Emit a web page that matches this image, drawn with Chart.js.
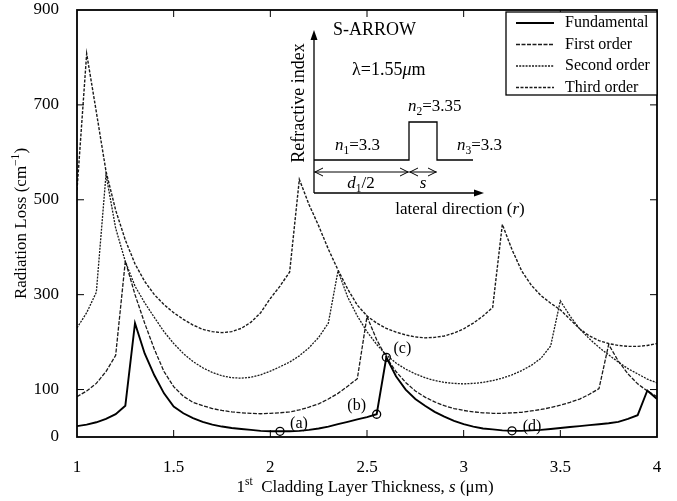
<!DOCTYPE html>
<html>
<head>
<meta charset="utf-8">
<script src="https://cdn.jsdelivr.net/npm/chart.js@4.4.1/dist/chart.umd.min.js"></script>
<style>
  html, body { margin: 0; padding: 0; background: #fff; }
  canvas { display: block; }
</style>
</head>
<body>
<canvas id="chart" width="677" height="501"></canvas>
<script>
/* ================= DATA ================= */
const thickness = [
  1.00, 1.05, 1.10, 1.15, 1.20, 1.25, 1.30, 1.35, 1.40, 1.45,
  1.50, 1.55, 1.60, 1.65, 1.70, 1.75, 1.80, 1.85, 1.90, 1.95,
  2.00, 2.05, 2.10, 2.15, 2.20, 2.25, 2.30, 2.35, 2.40, 2.45,
  2.50, 2.55, 2.60, 2.65, 2.70, 2.75, 2.80, 2.85, 2.90, 2.95,
  3.00, 3.05, 3.10, 3.15, 3.20, 3.25, 3.30, 3.35, 3.40, 3.45,
  3.50, 3.55, 3.60, 3.65, 3.70, 3.75, 3.80, 3.85, 3.90, 3.95,
  4.00
];
const fundamental = [
  23, 26, 31, 38, 48, 66, 240, 176, 130, 92,
  64, 50, 40, 32, 26, 22, 19, 17, 15, 13,
  12, 12, 12, 13, 15, 18, 22, 27, 32, 37,
  42, 48, 168, 128, 100, 80, 66, 53, 43, 34,
  27, 22, 18, 16, 14, 13, 13, 14, 15, 17,
  19, 21, 23, 25, 27, 29, 32, 38, 46, 98,
  80
];
const firstOrder = [
  85, 97, 113, 138, 172, 371, 300, 240, 185, 138,
  106, 86, 73, 66, 60, 56, 53, 51, 50, 49,
  50, 51, 53, 57, 63, 70, 80, 92, 107, 123,
  254, 205, 168, 138, 115, 97, 84, 74, 66, 60,
  56, 53, 51, 50, 50, 51, 52, 55, 58, 62,
  67, 73, 80, 90, 102, 195, 160, 133, 112, 97,
  85
];
const secondOrder = [
  230, 262, 305, 553, 440, 370, 318, 283, 252, 222,
  197, 176, 159, 146, 136, 129, 125, 124, 126, 131,
  139, 148, 158, 171, 188, 210, 240, 350, 295, 255,
  222, 195, 173, 156, 143, 133, 125, 119, 115, 113,
  112, 113, 115, 119, 124, 131, 140, 151, 166, 192,
  287, 255, 228, 207, 189, 173, 158, 144, 133, 122,
  114
];
const thirdOrder = [
  520, 808, 685, 560, 478, 415, 365, 328, 300, 279,
  262, 248, 236, 227, 222, 220, 222, 229, 242, 262,
  292, 318, 348, 543, 490, 445, 396, 352, 312, 278,
  255, 240, 229, 221, 215, 211, 209, 210, 213, 219,
  228, 240, 255, 273, 448, 395, 350, 320, 298, 282,
  268, 248, 228, 213, 203, 197, 193, 191, 191, 193,
  197
];
const seriesNames = ["Fundamental", "First order", "Second order", "Third order"];
const markX = [2.05, 2.55, 2.60, 3.25];
const markY = [12, 48, 168, 13];
const markLabels = ["(a)", "(b)", "(c)", "(d)"];
const yTicks = [0, 100, 300, 500, 700, 900];

/* ================= STYLE ================= */
const SERIF = '"Liberation Serif", "Times New Roman", serif';
const INK = "#000";
const lineStyles = [
  { color: "#000", width: 1.9, dash: [] },
  { color: "#1a1a1a", width: 1.3, dash: [4, 1.5] },
  { color: "#1a1a1a", width: 1.3, dash: [2, 1.2] },
  { color: "#1a1a1a", width: 1.4, dash: [3, 1.5] },
];
const labelShift = [[19, -8], [-20, -8], [16, -8], [20, -4]];

const font = (size, italic) => (italic ? "italic " : "") + size + "px " + SERIF;

// text with italic / sub / sup pieces
function richText(ctx, parts, x, y, size, align) {
  let w = 0;
  parts.forEach((p) => {
    const s = p.sub || p.sup ? size * 0.68 : size;
    ctx.font = font(s, p.it);
    p.w = ctx.measureText(p.t).width;
    w += p.w;
  });
  let cx = align === "center" ? x - w / 2 : x;
  ctx.textAlign = "left";
  ctx.textBaseline = "middle";
  parts.forEach((p) => {
    const s = p.sub || p.sup ? size * 0.68 : size;
    ctx.font = font(s, p.it);
    const dy = p.sub ? size * 0.3 : p.sup ? -size * 0.35 : 0;
    ctx.fillText(p.t, cx, y + dy);
    cx += p.w;
  });
}

function arrowHead(ctx, x, y, dir) {
  ctx.beginPath();
  if (dir === "up") {
    ctx.moveTo(x, y); ctx.lineTo(x - 3.5, y + 10); ctx.lineTo(x + 3.5, y + 10);
  } else {
    ctx.moveTo(x, y); ctx.lineTo(x - 10, y - 3.5); ctx.lineTo(x - 10, y + 3.5);
  }
  ctx.closePath();
  ctx.fill();
}

function openHead(ctx, x, y, dir) {
  const d = dir === "left" ? 1 : -1;
  ctx.beginPath();
  ctx.moveTo(x + d * 8, y - 4); ctx.lineTo(x, y); ctx.lineTo(x + d * 8, y + 4);
  ctx.stroke();
}

/* ================= PLUGINS ================= */
const framePlugin = {
  id: "frame",
  afterDatasetsDraw(chart) {
    const { ctx, chartArea: a, scales } = chart;
    ctx.save();
    ctx.strokeStyle = "#000";
    ctx.lineWidth = 1;
    scales.x.ticks.forEach((t) => {
      const px = scales.x.getPixelForValue(t.value);
      if (px <= a.left + 1 || px >= a.right - 1) return;
      ctx.beginPath();
      ctx.moveTo(px, a.bottom); ctx.lineTo(px, a.bottom - 7);
      ctx.moveTo(px, a.top); ctx.lineTo(px, a.top + 7);
      ctx.stroke();
    });
    scales.y.ticks.forEach((t) => {
      const py = scales.y.getPixelForValue(t.value);
      if (py <= a.top + 1 || py >= a.bottom - 1) return;
      ctx.beginPath();
      ctx.moveTo(a.left, py); ctx.lineTo(a.left + 7, py);
      ctx.moveTo(a.right, py); ctx.lineTo(a.right - 7, py);
      ctx.stroke();
    });
    ctx.lineWidth = 1.8;
    ctx.strokeRect(a.left, a.top, a.right - a.left, a.bottom - a.top);

    // point labels (a)-(d)
    ctx.fillStyle = INK;
    ctx.font = font(16);
    ctx.textAlign = "center";
    ctx.textBaseline = "middle";
    markLabels.forEach((lab, i) => {
      const px = scales.x.getPixelForValue(markX[i]);
      const py = scales.y.getPixelForValue(markY[i]);
      ctx.fillText(lab, px + labelShift[i][0], py + labelShift[i][1]);
    });

    // legend
    const lx = a.right - 151, ly = a.top + 2;
    ctx.fillStyle = "#fff";
    ctx.fillRect(lx, ly, 151, 83);
    ctx.lineWidth = 1.3;
    ctx.strokeStyle = "#000";
    ctx.strokeRect(lx, ly, 151, 83);
    seriesNames.forEach((name, i) => {
      const y = ly + 11 + i * 21.5;
      const st = lineStyles[i];
      ctx.beginPath();
      ctx.setLineDash(st.dash);
      ctx.lineWidth = st.width;
      ctx.strokeStyle = st.color;
      ctx.moveTo(lx + 10, y); ctx.lineTo(lx + 48, y);
      ctx.stroke();
      ctx.setLineDash([]);
      ctx.fillStyle = INK;
      ctx.font = font(16);
      ctx.textAlign = "left";
      ctx.fillText(name, lx + 59, y);
    });

    // inset: refractive index profile
    const ox = a.left + 237, oy = a.top + 183;
    ctx.strokeStyle = "#000";
    ctx.fillStyle = "#000";
    ctx.lineWidth = 1.3;
    ctx.beginPath();
    ctx.moveTo(ox, oy); ctx.lineTo(ox, oy - 155);
    ctx.moveTo(ox, oy); ctx.lineTo(ox + 162, oy);
    ctx.stroke();
    arrowHead(ctx, ox, oy - 163, "up");
    arrowHead(ctx, ox + 170, oy, "right");

    ctx.beginPath();
    ctx.moveTo(ox, oy - 33);
    ctx.lineTo(ox + 95, oy - 33);
    ctx.lineTo(ox + 95, oy - 71);
    ctx.lineTo(ox + 123, oy - 71);
    ctx.lineTo(ox + 123, oy - 33);
    ctx.lineTo(ox + 159, oy - 33);
    ctx.stroke();

    ctx.lineWidth = 1;
    const dy = oy - 21;
    ctx.beginPath();
    ctx.moveTo(ox, dy); ctx.lineTo(ox + 123, dy);
    ctx.stroke();
    openHead(ctx, ox + 1, dy, "left");
    openHead(ctx, ox + 94, dy, "right");
    openHead(ctx, ox + 96, dy, "left");
    openHead(ctx, ox + 122, dy, "right");

    ctx.fillStyle = INK;
    richText(ctx, [{ t: "S-ARROW" }], ox + 19, a.top + 20, 18, "left");
    richText(ctx, [{ t: "λ=1.55" }, { t: "μ", it: true }, { t: "m" }], ox + 38, a.top + 60, 18, "left");
    richText(ctx, [{ t: "n", it: true }, { t: "2", sub: true }, { t: "=3.35" }], ox + 94, oy - 86, 17, "left");
    richText(ctx, [{ t: "n", it: true }, { t: "1", sub: true }, { t: "=3.3" }], ox + 21, oy - 47, 17, "left");
    richText(ctx, [{ t: "n", it: true }, { t: "3", sub: true }, { t: "=3.3" }], ox + 143, oy - 47, 17, "left");
    richText(ctx, [{ t: "d", it: true }, { t: "1", sub: true }, { t: "/2" }], ox + 47, oy - 9, 17, "center");
    richText(ctx, [{ t: "s", it: true }], ox + 109, oy - 9, 17, "center");
    richText(ctx, [{ t: "lateral direction (" }, { t: "r", it: true }, { t: ")" }], ox + 146, oy + 17, 17, "center");

    ctx.save();
    ctx.translate(ox - 15, a.top + 93);
    ctx.rotate(-Math.PI / 2);
    richText(ctx, [{ t: "Refractive index" }], 0, 0, 18, "center");
    ctx.restore();

    // axis titles
    richText(ctx, [
      { t: "1" }, { t: "st", sup: true }, { t: "  Cladding Layer Thickness, " },
      { t: "s", it: true }, { t: " (μm)" },
    ], (a.left + a.right) / 2 - 2, chart.height - 13, 17, "center");

    ctx.save();
    ctx.translate(22, (a.top + a.bottom) / 2);
    ctx.rotate(-Math.PI / 2);
    richText(ctx, [{ t: "Radiation Loss (cm" }, { t: "−1", sup: true }, { t: ")" }], 0, 0, 17, "center");
    ctx.restore();
    ctx.restore();
  },
};

/* ================= CHART ================= */
const seriesValues = [fundamental, firstOrder, secondOrder, thirdOrder];

const datasets = seriesValues.map((vals, i) => ({
  label: seriesNames[i],
  data: thickness.map((x, j) => ({ x, y: vals[j] })),
  borderColor: lineStyles[i].color,
  borderWidth: lineStyles[i].width,
  borderDash: lineStyles[i].dash,
  pointRadius: 0,
  tension: 0,
  fill: false,
  order: i,
}));

datasets.push({
  label: "points",
  data: markX.map((x, i) => ({ x, y: markY[i] })),
  showLine: false,
  pointRadius: 4,
  pointBorderWidth: 1.3,
  pointBorderColor: "#000",
  pointBackgroundColor: "rgba(0,0,0,0)",
  order: -1,
});

new Chart(document.getElementById("chart"), {
  type: "line",
  data: { datasets },
  options: {
    responsive: false,
    animation: false,
    layout: { padding: { top: 10, right: 20, left: 0, bottom: 0 } },
    plugins: { legend: { display: false }, tooltip: { enabled: false } },
    scales: {
      x: {
        type: "linear",
        min: 1,
        max: 4,
        grid: { display: false },
        border: { display: false },
        ticks: {
          stepSize: 0.5,
          padding: 12,
          color: INK,
          font: { family: SERIF, size: 17 },
          maxRotation: 0,
          callback: (v) => String(v),
        },
        afterFit: (s) => {
          s.height = 64;
          s.paddingLeft = 0;
          s.paddingRight = 0;
        },
      },
      y: {
        min: 0,
        max: 900,
        grid: { display: false },
        border: { display: false },
        ticks: {
          padding: 10,
          color: INK,
          font: { family: SERIF, size: 17 },
          callback: (v) => String(v),
        },
        afterBuildTicks: (s) => {
          s.ticks = yTicks.map((v) => ({ value: v }));
        },
        afterFit: (s) => {
          s.width = 77;
          s.paddingTop = 0;
          s.paddingBottom = 0;
        },
      },
    },
  },
  plugins: [framePlugin],
});
</script>
</body>
</html>
